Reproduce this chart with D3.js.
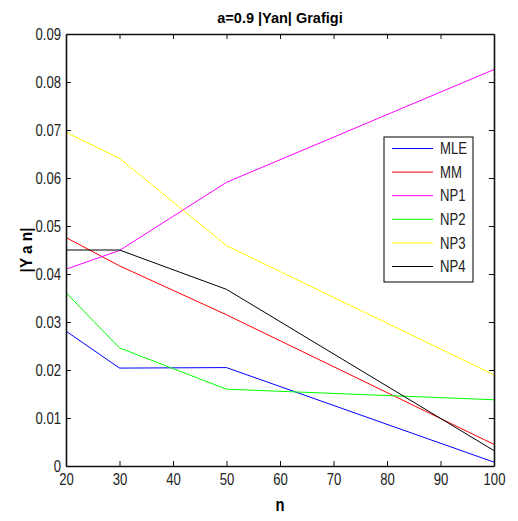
<!DOCTYPE html>
<html>
<head>
<meta charset="utf-8">
<script src="https://cdn.jsdelivr.net/npm/d3@7"></script>
<style>
  body { margin: 0; background: #fff; }
  text { font-family: "Liberation Sans", Arial, sans-serif; }
</style>
</head>
<body>
<div id="chart"></div>
<script>
// data
const nValues = [20, 30, 50, 100]
const seriesNames = ["MLE", "MM", "NP1", "NP2", "NP3", "NP4"]
const seriesColors = ["#0000ff", "#ff0000", "#ff00ff", "#00ff00", "#ffff00", "#000000"]
const mle = [0.0281, 0.0204, 0.0205, 0.0008]
const mm = [0.0476, 0.0417, 0.0315, 0.0045]
const np1 = [0.0410, 0.0449, 0.0591, 0.0826]
const np2 = [0.0361, 0.0246, 0.0160, 0.0138]
const np3 = [0.0695, 0.0641, 0.0459, 0.0190]
const np4 = [0.0450, 0.0450, 0.0368, 0.0032]
const xTicks = [20, 30, 40, 50, 60, 70, 80, 90, 100]
const yTicks = [0, 0.01, 0.02, 0.03, 0.04, 0.05, 0.06, 0.07, 0.08, 0.09]

const allSeries = [mle, mm, np1, np2, np3, np4]

const width = 518, height = 521
const margin = { top: 34, right: 24, bottom: 55, left: 66 }
const ctxWidth = width - margin.left - margin.right
const ctxHeight = height - margin.top - margin.bottom

// the reference font is a narrow helvetica, squeeze liberation sans instead
const narrow = 0.82

const svg = d3.select("#chart")
    .append("svg")
    .attr("width", width)
    .attr("height", height)

const g = svg.append("g")
    .attr("transform", `translate(${margin.left},${margin.top})`)

const x = d3.scaleLinear().domain([20, 100]).range([0, ctxWidth])
const y = d3.scaleLinear().domain([0, 0.09]).range([ctxHeight, 0])

// lines
const line = d3.line()
    .x((d, i) => x(nValues[i]))
    .y(d => y(d))

g.selectAll(".series")
    .data(allSeries)
    .join("path")
    .attr("class", "series")
    .attr("d", line)
    .attr("fill", "none")
    .attr("stroke", (d, i) => seriesColors[i])
    .attr("stroke-width", 1)

// axes, matlab style: ticks inward on all four sides
const tickLen = 5
const fmtY = d => d === 0 ? "0" : d3.format(".2f")(d)

g.append("g")
    .attr("transform", `translate(0,${ctxHeight})`)
    .call(d3.axisBottom(x).tickValues(xTicks).tickSizeInner(-tickLen).tickSizeOuter(0).tickPadding(8))
g.append("g")
    .call(d3.axisTop(x).tickValues(xTicks).tickSizeInner(-tickLen).tickSizeOuter(0).tickFormat(""))
g.append("g")
    .attr("class", "yleft")
    .call(d3.axisLeft(y).tickValues(yTicks).tickSizeInner(-tickLen).tickSizeOuter(0).tickPadding(5).tickFormat(fmtY))
g.append("g")
    .attr("transform", `translate(${ctxWidth},0)`)
    .call(d3.axisRight(y).tickValues(yTicks).tickSizeInner(-tickLen).tickSizeOuter(0).tickFormat(""))

g.selectAll(".domain").attr("stroke", "#111").attr("stroke-width", 1.6)
g.selectAll(".tick line").attr("stroke", "#111").attr("stroke-width", 1)
g.selectAll(".tick text")
    .attr("fill", "#222")
    .style("font-size", "16px")
    .attr("transform", `scale(${narrow},1)`)
    .attr("x", function () { return +d3.select(this).attr("x") / narrow || 0 })

// title and axis labels
svg.append("text")
    .attr("x", margin.left + ctxWidth / 2)
    .attr("y", 22.5)
    .attr("text-anchor", "middle")
    .style("font-size", "14.5px")
    .style("font-weight", "bold")
    .text("a=0.9 |Yan| Grafigi")

svg.append("text")
    .attr("transform", `translate(${margin.left + ctxWidth / 2},511) scale(${narrow},1)`)
    .attr("text-anchor", "middle")
    .style("font-size", "18px")
    .style("font-weight", "bold")
    .text("n")

svg.append("text")
    .attr("transform", `translate(31.5,${margin.top + ctxHeight / 2}) rotate(-90) scale(0.9,1)`)
    .attr("text-anchor", "middle")
    .style("font-size", "17px")
    .style("font-weight", "bold")
    .text("|Y a n|")

// legend
const legend = svg.append("g").attr("transform", "translate(384,137)")
legend.append("rect")
    .attr("width", 89)
    .attr("height", 145)
    .attr("fill", "#fff")
    .attr("stroke", "#000")
    .attr("stroke-width", 1)

const items = legend.selectAll(".item")
    .data(seriesNames)
    .join("g")
    .attr("class", "item")
    .attr("transform", (d, i) => `translate(0,${11.5 + i * 23.6})`)
items.append("line")
    .attr("x1", 8).attr("x2", 49)
    .attr("stroke", (d, i) => seriesColors[i])
    .attr("stroke-width", 1)
items.append("text")
    .attr("transform", `translate(56,0) scale(${narrow},1)`)
    .attr("dy", "0.35em")
    .style("font-size", "16px")
    .attr("fill", "#222")
    .text(d => d)
</script>
</body>
</html>
